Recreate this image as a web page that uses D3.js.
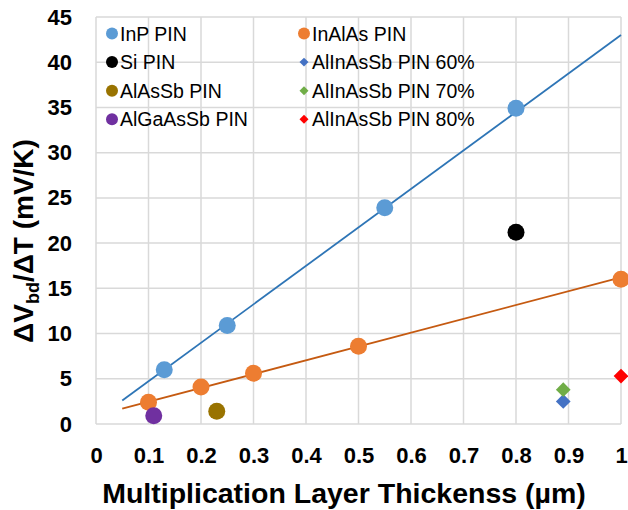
<!DOCTYPE html>
<html>
<head>
<meta charset="utf-8">
<script src="https://cdn.jsdelivr.net/npm/d3@7"></script>
<style>
  body { margin: 0; background: #fff; }
  text { font-family: Arial, "Liberation Sans", sans-serif; }
</style>
</head>
<body>
<div class="displayArea"></div>
<script>
// Data
const inpX = [0.13, 0.25, 0.55, 0.8],
      inpY = [6.0, 10.9, 23.9, 34.9];
const inalasX = [0.1, 0.2, 0.3, 0.5, 1.0],
      inalasY = [2.4, 4.1, 5.6, 8.6, 16.0];
const siX = [0.8], siY = [21.2];
const alassbX = [0.23], alassbY = [1.4];
const algaassbX = [0.11], algaassbY = [0.9];
const allnas60X = [0.89], allnas60Y = [2.5];
const allnas70X = [0.89], allnas70Y = [3.8];
const allnas80X = [1.0], allnas80Y = [5.3];

// Trendline endpoints (as drawn in the figure)
const inpTrendX = [0.05, 1.0], inpTrendY = [2.6, 43.0];
const inalasTrendX = [0.05, 1.0], inalasTrendY = [1.7, 16.2];

const xTicks = [0, 0.1, 0.2, 0.3, 0.4, 0.5, 0.6, 0.7, 0.8, 0.9, 1];
const yTicks = [0, 5, 10, 15, 20, 25, 30, 35, 40, 45];

const series = [
  {name: "InP PIN", xs: inpX, ys: inpY, colour: "#5B9BD5", shape: "circle"},
  {name: "InAlAs PIN", xs: inalasX, ys: inalasY, colour: "#ED7D31", shape: "circle"},
  {name: "Si PIN", xs: siX, ys: siY, colour: "#000000", shape: "circle"},
  {name: "AlInAsSb PIN 60%", xs: allnas60X, ys: allnas60Y, colour: "#4472C4", shape: "diamond"},
  {name: "AlAsSb PIN", xs: alassbX, ys: alassbY, colour: "#997300", shape: "circle"},
  {name: "AlInAsSb PIN 70%", xs: allnas70X, ys: allnas70Y, colour: "#70AD47", shape: "diamond"},
  {name: "AlGaAsSb PIN", xs: algaassbX, ys: algaassbY, colour: "#7030A0", shape: "circle"},
  {name: "AlInAsSb PIN 80%", xs: allnas80X, ys: allnas80Y, colour: "#FF0000", shape: "diamond"}
];

const width = 628, height = 510;
const plotLeft = 96, plotRight = 621, plotTop = 17, plotBottom = 424;

const xScale = d3.scaleLinear().domain([0, 1]).range([plotLeft, plotRight]),
      yScale = d3.scaleLinear().domain([0, 45]).range([plotBottom, plotTop]);

const svg = d3.select(".displayArea")
  .append("svg")
  .attr("width", width)
  .attr("height", height);

// gridlines
svg.append("g")
  .selectAll("line")
  .data(xTicks)
  .enter().append("line")
  .attr("x1", d => xScale(d)).attr("x2", d => xScale(d))
  .attr("y1", plotTop).attr("y2", plotBottom)
  .attr("stroke", "#d9d9d9").attr("stroke-width", 1.5);

svg.append("g")
  .selectAll("line")
  .data(yTicks)
  .enter().append("line")
  .attr("x1", plotLeft).attr("x2", plotRight)
  .attr("y1", d => yScale(d)).attr("y2", d => yScale(d))
  .attr("stroke", "#d9d9d9").attr("stroke-width", 1.5);

// axes
const xAxis = d3.axisBottom(xScale).tickValues(xTicks).tickSize(0).tickPadding(23)
  .tickFormat(d => String(+d.toFixed(1)));
const yAxis = d3.axisLeft(yScale).tickValues(yTicks).tickSize(0).tickPadding(24);

const gx = svg.append("g").attr("transform", `translate(0,${plotBottom})`).call(xAxis);
const gy = svg.append("g").attr("transform", `translate(${plotLeft},0)`).call(yAxis);
[gx, gy].forEach(g => {
  g.select(".domain").remove();
  g.selectAll("text")
    .attr("font-family", "Arial, 'Liberation Sans', sans-serif")
    .attr("font-size", 22).attr("font-weight", "bold").attr("fill", "#000");
});

// trendlines
const line = d3.line().x(d => xScale(d[0])).y(d => yScale(d[1]));
svg.append("path")
  .datum(d3.zip(inpTrendX, inpTrendY))
  .attr("fill", "none").attr("stroke", "#2E75B6").attr("stroke-width", 1.8)
  .attr("d", line);
svg.append("path")
  .datum(d3.zip(inalasTrendX, inalasTrendY))
  .attr("fill", "none").attr("stroke", "#C55A11").attr("stroke-width", 1.8)
  .attr("d", line);

// markers
const diamondSym = d3.symbol().type(d3.symbolSquare);

function drawMarker(g, s, x, y, big) {
  if (s.shape === "circle") {
    g.append("circle").attr("cx", x).attr("cy", y)
      .attr("r", big ? 8.5 : 6).attr("fill", s.colour);
  } else {
    g.append("path")
      .attr("d", diamondSym.size(big ? 108 : 40)())
      .attr("transform", `translate(${x},${y}) rotate(45)`)
      .attr("fill", s.colour);
  }
}

const marks = svg.append("g");
series.forEach(s => {
  d3.zip(s.xs, s.ys).forEach(p => drawMarker(marks, s, xScale(p[0]), yScale(p[1]), true));
});

// legend
const legend = svg.append("g");
series.forEach((s, i) => {
  const col = i % 2, row = Math.floor(i / 2);
  const lx = col === 0 ? 112 : 304, ly = 33.5 + row * 28.6;
  drawMarker(legend, s, lx, ly, false);
  legend.append("text")
    .attr("x", lx + 8).attr("y", ly)
    .attr("dy", "0.36em")
    .attr("font-size", 19.5)
    .attr("fill", "#000")
    .text(s.name);
});

// axis titles
svg.append("text")
  .attr("x", 344).attr("y", 503)
  .attr("text-anchor", "middle")
  .attr("font-size", 28.5).attr("font-weight", "bold")
  .text("Multiplication Layer Thickenss (µm)");

const yt = svg.append("text")
  .attr("transform", `translate(33,241) rotate(-90)`)
  .attr("text-anchor", "middle")
  .attr("font-size", 28).attr("font-weight", "bold");
yt.append("tspan").text("ΔV");
yt.append("tspan").attr("font-size", 18).attr("dy", 6).text("bd");
yt.append("tspan").attr("dy", -6).text("/ΔT (mV/K)");
</script>
</body>
</html>
